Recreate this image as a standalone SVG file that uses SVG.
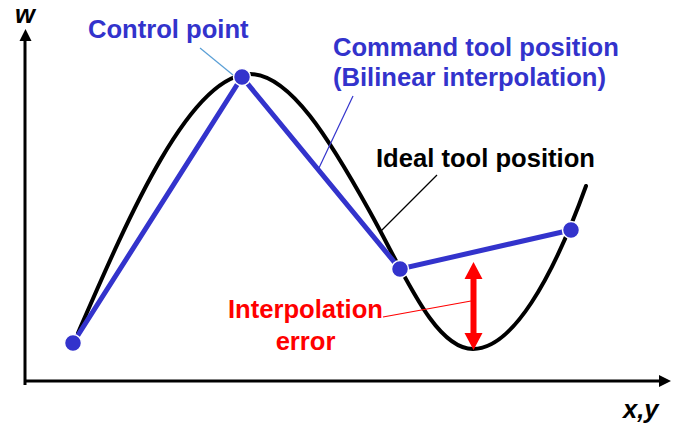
<svg xmlns="http://www.w3.org/2000/svg" width="682" height="427" viewBox="0 0 682 427">
  <style>
    text { font-family: "Liberation Sans", Arial, sans-serif; font-weight: bold; font-size: 25.6px; }
    .blue { fill: #3333CC; }
    .red { fill: #FF0000; }
    .black { fill: #000000; }
    .axis { stroke: #000; stroke-width: 3; fill: none; }
    .ideal { stroke: #000; stroke-width: 4; fill: none; stroke-linecap: round; }
    .cmd { stroke: #3333CC; stroke-width: 5; fill: none; }
    .pt { fill: #3333CC; stroke: #FFFFFF; stroke-width: 1.5; }
    .leader { fill: none; stroke-width: 1.2; }
  </style>
  <rect width="682" height="427" fill="#FFFFFF"/>

  <g id="axes">
    <line class="axis" x1="25" y1="385" x2="25" y2="40"/>
    <polygon points="25.5,29 31.5,41 19.5,41" fill="#000"/>
    <line class="axis" x1="24" y1="381" x2="661" y2="381"/>
    <polygon points="671,381 659,375 659,387" fill="#000"/>
    <text id="label-w" class="black" x="15" y="23" font-style="italic">w</text>
    <text id="label-xy" class="black" x="623" y="418" font-style="italic">x,y</text>
  </g>

  <g id="ideal-curve">
    <path class="ideal" d="M78,333 C128,218 190,74 250,74 C290,74 330,140 370,212 C405,275 435,349 473,349 C512,349 552,280 586,186"/>
  </g>

  <g id="connectors">
    <polyline class="cmd" points="73,343 242,77 400,269 571,230"/>
    <line class="leader" stroke="#5A9FD6" stroke-width="1" x1="200" y1="48" x2="233" y2="75"/>
    <line class="leader" stroke="#3333CC" x1="353" y1="96" x2="318" y2="170"/>
    <line class="leader" stroke="#000000" x1="437" y1="175" x2="381" y2="231"/>
    <line class="leader" stroke="#FF0000" x1="383" y1="317" x2="471" y2="301"/>
  </g>

  <g id="error-arrow">
    <polygon fill="#FF0000" points="473.5,262 482.5,279 476.5,279 476.5,333 482.5,333 473.5,350 464.5,333 470.5,333 470.5,279 464.5,279"/>
  </g>

  <g id="point-1"><circle class="pt" cx="73" cy="343" r="8.5"/></g>
  <g id="point-2"><circle class="pt" cx="242" cy="77" r="8.5"/></g>
  <g id="point-3"><circle class="pt" cx="400" cy="269" r="8.5"/></g>
  <g id="point-4"><circle class="pt" cx="571" cy="230" r="8.5"/></g>

  <g id="label-control-point">
    <text class="blue" x="88" y="38">Control point</text>
  </g>
  <g id="label-command">
    <text class="blue" x="333" y="56">Command tool position</text>
    <text class="blue" x="333" y="86">(Bilinear interpolation)</text>
  </g>
  <g id="label-ideal">
    <text class="black" x="376" y="167">Ideal tool position</text>
  </g>
  <g id="label-error">
    <text class="red" x="305.5" y="318" text-anchor="middle">Interpolation</text>
    <text class="red" x="305.5" y="350" text-anchor="middle">error</text>
  </g>
</svg>
